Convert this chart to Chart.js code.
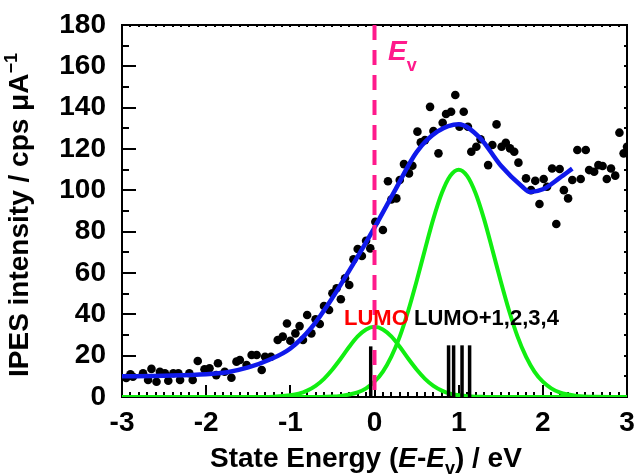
<!DOCTYPE html>
<html>
<head>
<meta charset="utf-8">
<script src="https://cdn.jsdelivr.net/npm/chart.js@4.4.0/dist/chart.umd.min.js"></script>
<style>
  html, body { margin: 0; padding: 0; background: #fff; }
  canvas { display: block; }
</style>
</head>
<body>
<canvas id="myChart" width="635" height="475"></canvas>
<script>
// IPES spectrum, values
const xTickValues = [-3, -2, -1, 0, 1, 2, 3];
const xTickLabels = ["-3", "-2", "-1", "0", "1", "2", "3"];
const yTickValues = [0, 20, 40, 60, 80, 100, 120, 140, 160, 180];
const yTickLabels = ["0", "20", "40", "60", "80", "100", "120", "140", "160", "180"];

// measured points (black dots)
const measuredEnergy = [
  -2.95, -2.90, -2.87, -2.75, -2.69, -2.65, -2.59, -2.55, -2.49, -2.45,
  -2.39, -2.33, -2.31, -2.20, -2.16, -2.10, -2.02, -1.96, -1.88, -1.86,
  -1.78, -1.70, -1.64, -1.60, -1.52, -1.46, -1.40, -1.34, -1.30, -1.23,
  -1.15, -1.09, -1.04, -1.00, -0.94, -0.89, -0.85, -0.80, -0.75, -0.70,
  -0.65, -0.60, -0.54, -0.50, -0.45, -0.40, -0.35, -0.30, -0.25, -0.20,
  -0.15, -0.10, -0.05, 0.01, 0.10, 0.16, 0.20, 0.26, 0.30, 0.35,
  0.41, 0.45, 0.51, 0.55, 0.60, 0.66, 0.70, 0.76, 0.81, 0.85,
  0.91, 0.96, 1.01, 1.06, 1.11, 1.15, 1.21, 1.26, 1.35, 1.40,
  1.45, 1.51, 1.56, 1.61, 1.66, 1.71, 1.80, 1.86, 1.91, 1.96,
  2.01, 2.05, 2.11, 2.16, 2.20, 2.25, 2.30, 2.35, 2.41, 2.45,
  2.51, 2.55, 2.61, 2.66, 2.71, 2.76, 2.81, 2.86, 2.91, 2.96, 3.00
];
const measuredCounts = [
  9.2, 11.0, 9.8, 11.5, 8.2, 13.6, 7.4, 12.2, 11.5, 7.9,
  11.5, 11.5, 8.2, 11.5, 8.2, 17.4, 13.4, 13.9, 10.6, 16.3,
  12.2, 9.3, 17.1, 17.9, 15.5, 20.3, 20.3, 13.1, 19.5, 19.5,
  27.6, 29.2, 35.6, 27.2, 30.8, 34.3, 27.6, 39.7, 30.8, 37.6,
  35.3, 44.0, 42.1, 50.2, 52.6, 47.3, 57.4, 54.2, 66.6, 71.6,
  68.2, 75.6, 71.9, 84.8, 80.8, 104.4, 95.6, 96.1, 105.0, 112.7,
  108.2, 111.9, 128.4, 123.2, 124.3, 140.4, 128.7, 117.9, 132.7, 136.9,
  138.0, 146.1, 130.8, 138.0, 130.8, 118.7, 121.1, 124.7, 112.2, 121.9,
  131.9, 121.1, 123.0, 120.3, 118.7, 113.4, 105.8, 100.1, 104.6, 93.4,
  105.5, 101.7, 110.6, 83.7, 110.3, 100.1, 96.1, 105.0, 119.5, 105.5,
  119.5, 109.8, 109.0, 112.2, 111.8, 105.5, 110.6, 107.1, 127.9, 117.9, 121.1
];

// fitted envelope (blue)
const fitEnergy = [-3.0, -2.5, -2.0, -1.75, -1.5, -1.25, -1.0, -0.75, -0.5, -0.25, 0.0,
  0.25, 0.5, 0.75, 1.0, 1.25, 1.5, 1.75, 1.85, 2.0, 2.2, 2.35];
const fitCounts = [10.0, 10.3, 11.0, 12.0, 14.3, 18.0, 23.5, 33.5, 48.0, 64.5, 82.0,
  100.5, 118.5, 128.5, 132.0, 125.5, 112.0, 102.0, 99.2, 100.5, 106.0, 110.5];

// gaussian components (green), common energy grid
const peakEnergy = [-3.0, -1.5, -1.2, -1.0, -0.9, -0.8, -0.7, -0.6, -0.5, -0.4, -0.3, -0.2, -0.1,
  0.0, 0.1, 0.2, 0.3, 0.4, 0.5, 0.6, 0.7, 0.8, 0.9, 1.0, 1.1, 1.2, 1.3, 1.4, 1.5,
  1.6, 1.7, 1.8, 1.9, 2.0, 2.1, 2.2, 2.4, 2.6, 3.0];
const lumoPeak = [0, 0, 0.15, 0.8, 1.6, 3.1, 5.4, 8.8, 13.3, 18.6, 24.3, 29.3, 32.7,
  34.0, 32.7, 29.3, 24.3, 18.6, 13.3, 8.8, 5.4, 3.1, 1.6, 0.8, 0.4, 0.15, 0.05, 0, 0,
  0, 0, 0, 0, 0, 0, 0, 0, 0, 0];
const upperPeak = [0, 0, 0, 0, 0, 0, 0, 0.1, 0.2, 0.55, 1.2, 2.2, 4.2,
  7.4, 12.3, 19.5, 29.2, 41.6, 56.0, 71.4, 86.3, 98.7, 107.0, 110.0, 107.0, 98.7, 86.3, 71.4, 56.0,
  41.6, 29.2, 19.5, 12.3, 7.4, 4.2, 2.2, 0.55, 0.1, 0];

// calculated states (black sticks)
const stateEnergy = [-0.045, 0.88, 0.94, 1.04, 1.13];
const stateHeight = [24.5, 25, 25, 25, 25];

const vacuumLevel = 0;

const FONT = "'Liberation Sans', Arial, sans-serif";
const toPoints = (xs, ys) => xs.map((x, i) => ({ x: x, y: ys[i] }));

// draws text made of several runs (italic, sub/superscript) one after another
const drawRuns = (ctx, x, y, runs) => {
  runs.forEach((r) => {
    ctx.font = r.font;
    ctx.fillStyle = r.color || "#000";
    ctx.fillText(r.text, x, y + (r.dy || 0));
    x += ctx.measureText(r.text).width;
  });
};

const frameAndTicks = {
  id: "frameAndTicks",
  beforeDatasetsDraw(chart) {
    const { ctx, chartArea: a, scales } = chart;
    const x = scales.x;
    const y = scales.y;
    ctx.save();
    ctx.strokeStyle = "#000";
    ctx.lineWidth = 2;
    ctx.strokeRect(a.left, a.top, a.right - a.left, a.bottom - a.top);
    ctx.beginPath();
    for (let i = 0; i <= 60; i++) {
      const px = Math.round(x.getPixelForValue(-3 + i / 10));
      const len = i % 10 === 0 ? 12 : 5;
      ctx.moveTo(px, a.bottom);
      ctx.lineTo(px, a.bottom - len);
      ctx.moveTo(px, a.top);
      ctx.lineTo(px, a.top + 2);
    }
    for (let v = 0; v <= 180; v += 10) {
      const py = Math.round(y.getPixelForValue(v));
      const len = v % 20 === 0 ? 14 : 7;
      ctx.moveTo(a.left, py);
      ctx.lineTo(a.left + len, py);
      ctx.moveTo(a.right, py);
      ctx.lineTo(a.right - 3, py);
    }
    ctx.stroke();
    ctx.restore();
  },
};

const annotations = {
  id: "annotations",
  afterDatasetsDraw(chart) {
    const ctx = chart.ctx;
    ctx.save();
    ctx.textBaseline = "alphabetic";
    drawRuns(ctx, 388, 60, [
      { text: "E", font: "italic bold 28px " + FONT, color: "#ff1a8c" },
      { text: "v", font: "bold 18px " + FONT, color: "#ff1a8c", dy: 11 },
    ]);
    drawRuns(ctx, 344, 325, [
      { text: "LUMO", font: "bold 22px " + FONT, color: "#ff0000" },
    ]);
    drawRuns(ctx, 414, 325, [
      { text: "LUMO+1,2,3,4", font: "bold 22px " + FONT, color: "#000" },
    ]);
    ctx.restore();
  },
  afterDraw(chart) {
    const ctx = chart.ctx;
    ctx.save();
    ctx.textBaseline = "alphabetic";
    drawRuns(ctx, 210, 467, [
      { text: "State Energy (", font: "bold 28px " + FONT },
      { text: "E", font: "italic bold 28px " + FONT },
      { text: "-", font: "bold 28px " + FONT },
      { text: "E", font: "italic bold 28px " + FONT },
      { text: "v", font: "bold 18px " + FONT, dy: 7 },
      { text: ") / eV", font: "bold 28px " + FONT },
    ]);
    ctx.translate(28, 377);
    ctx.rotate(-Math.PI / 2);
    drawRuns(ctx, 0, 0, [
      { text: "IPES intensity / cps \u03bcA", font: "bold 28px " + FONT },
      { text: "\u22121", font: "bold 18px " + FONT, dy: -11 },
    ]);
    ctx.restore();
  },
};

const stateSticks = stateEnergy.map((e, i) => ({
  type: "line",
  showLine: true,
  data: [{ x: e, y: 0 }, { x: e, y: stateHeight[i] }],
  borderColor: "#000",
  borderWidth: 3.5,
  borderCapStyle: "butt",
  pointRadius: 0,
  order: 1,
}));

const ctx = document.getElementById("myChart").getContext("2d");
const chart = new Chart(ctx, {
  type: "scatter",
  data: {
    datasets: [
      {
        // vacuum level marker
        type: "line",
        showLine: true,
        data: [{ x: vacuumLevel, y: 180 }, { x: vacuumLevel, y: 0 }],
        borderColor: "#ff1a8c",
        borderWidth: 4,
        borderDash: [15, 10],
        pointRadius: 0,
        order: 0,
      },
      ...stateSticks,
      {
        type: "line",
        showLine: true,
        data: toPoints(fitEnergy, fitCounts),
        borderColor: "rgb(15, 25, 235)",
        borderWidth: 4.5,
        cubicInterpolationMode: "monotone",
        pointRadius: 0,
        order: 2,
      },
      {
        data: toPoints(measuredEnergy, measuredCounts),
        backgroundColor: "#000",
        borderColor: "#000",
        pointRadius: 4.3,
        borderWidth: 0,
        order: 3,
      },
      {
        type: "line",
        showLine: true,
        data: toPoints(peakEnergy, lumoPeak),
        borderColor: "#11ee11",
        borderWidth: 4,
        cubicInterpolationMode: "monotone",
        pointRadius: 0,
        order: 4,
      },
      {
        type: "line",
        showLine: true,
        data: toPoints(peakEnergy, upperPeak),
        borderColor: "#11ee11",
        borderWidth: 4,
        cubicInterpolationMode: "monotone",
        pointRadius: 0,
        order: 5,
      },
    ],
  },
  options: {
    responsive: false,
    animation: false,
    devicePixelRatio: 1,
    layout: { padding: { top: 25, right: 8, left: 0, bottom: 0 } },
    plugins: { legend: { display: false }, tooltip: { enabled: false } },
    events: [],
    scales: {
      x: {
        type: "linear",
        min: -3,
        max: 3,
        grid: { display: false, drawTicks: false },
        border: { display: false },
        afterBuildTicks: (scale) => {
          scale.ticks = xTickValues.map((v) => ({ value: v }));
        },
        afterFit: (scale) => {
          scale.height = 78;
          scale.paddingLeft = 0;
          scale.paddingRight = 0;
        },
        ticks: {
          autoSkip: false,
          maxRotation: 0,
          padding: 9,
          color: "#000",
          font: { family: FONT, size: 28, weight: "bold" },
          callback: (v, i) => xTickLabels[i],
        },
      },
      y: {
        type: "linear",
        min: 0,
        max: 180,
        grid: { display: false, drawTicks: false },
        border: { display: false },
        afterBuildTicks: (scale) => {
          scale.ticks = yTickValues.map((v) => ({ value: v }));
        },
        afterFit: (scale) => {
          scale.width = 122;
          scale.paddingTop = 0;
          scale.paddingBottom = 0;
        },
        ticks: {
          autoSkip: false,
          padding: 16,
          color: "#000",
          font: { family: FONT, size: 28, weight: "bold" },
          callback: (v, i) => yTickLabels[i],
        },
      },
    },
  },
  plugins: [frameAndTicks, annotations],
});
</script>
</body>
</html>
